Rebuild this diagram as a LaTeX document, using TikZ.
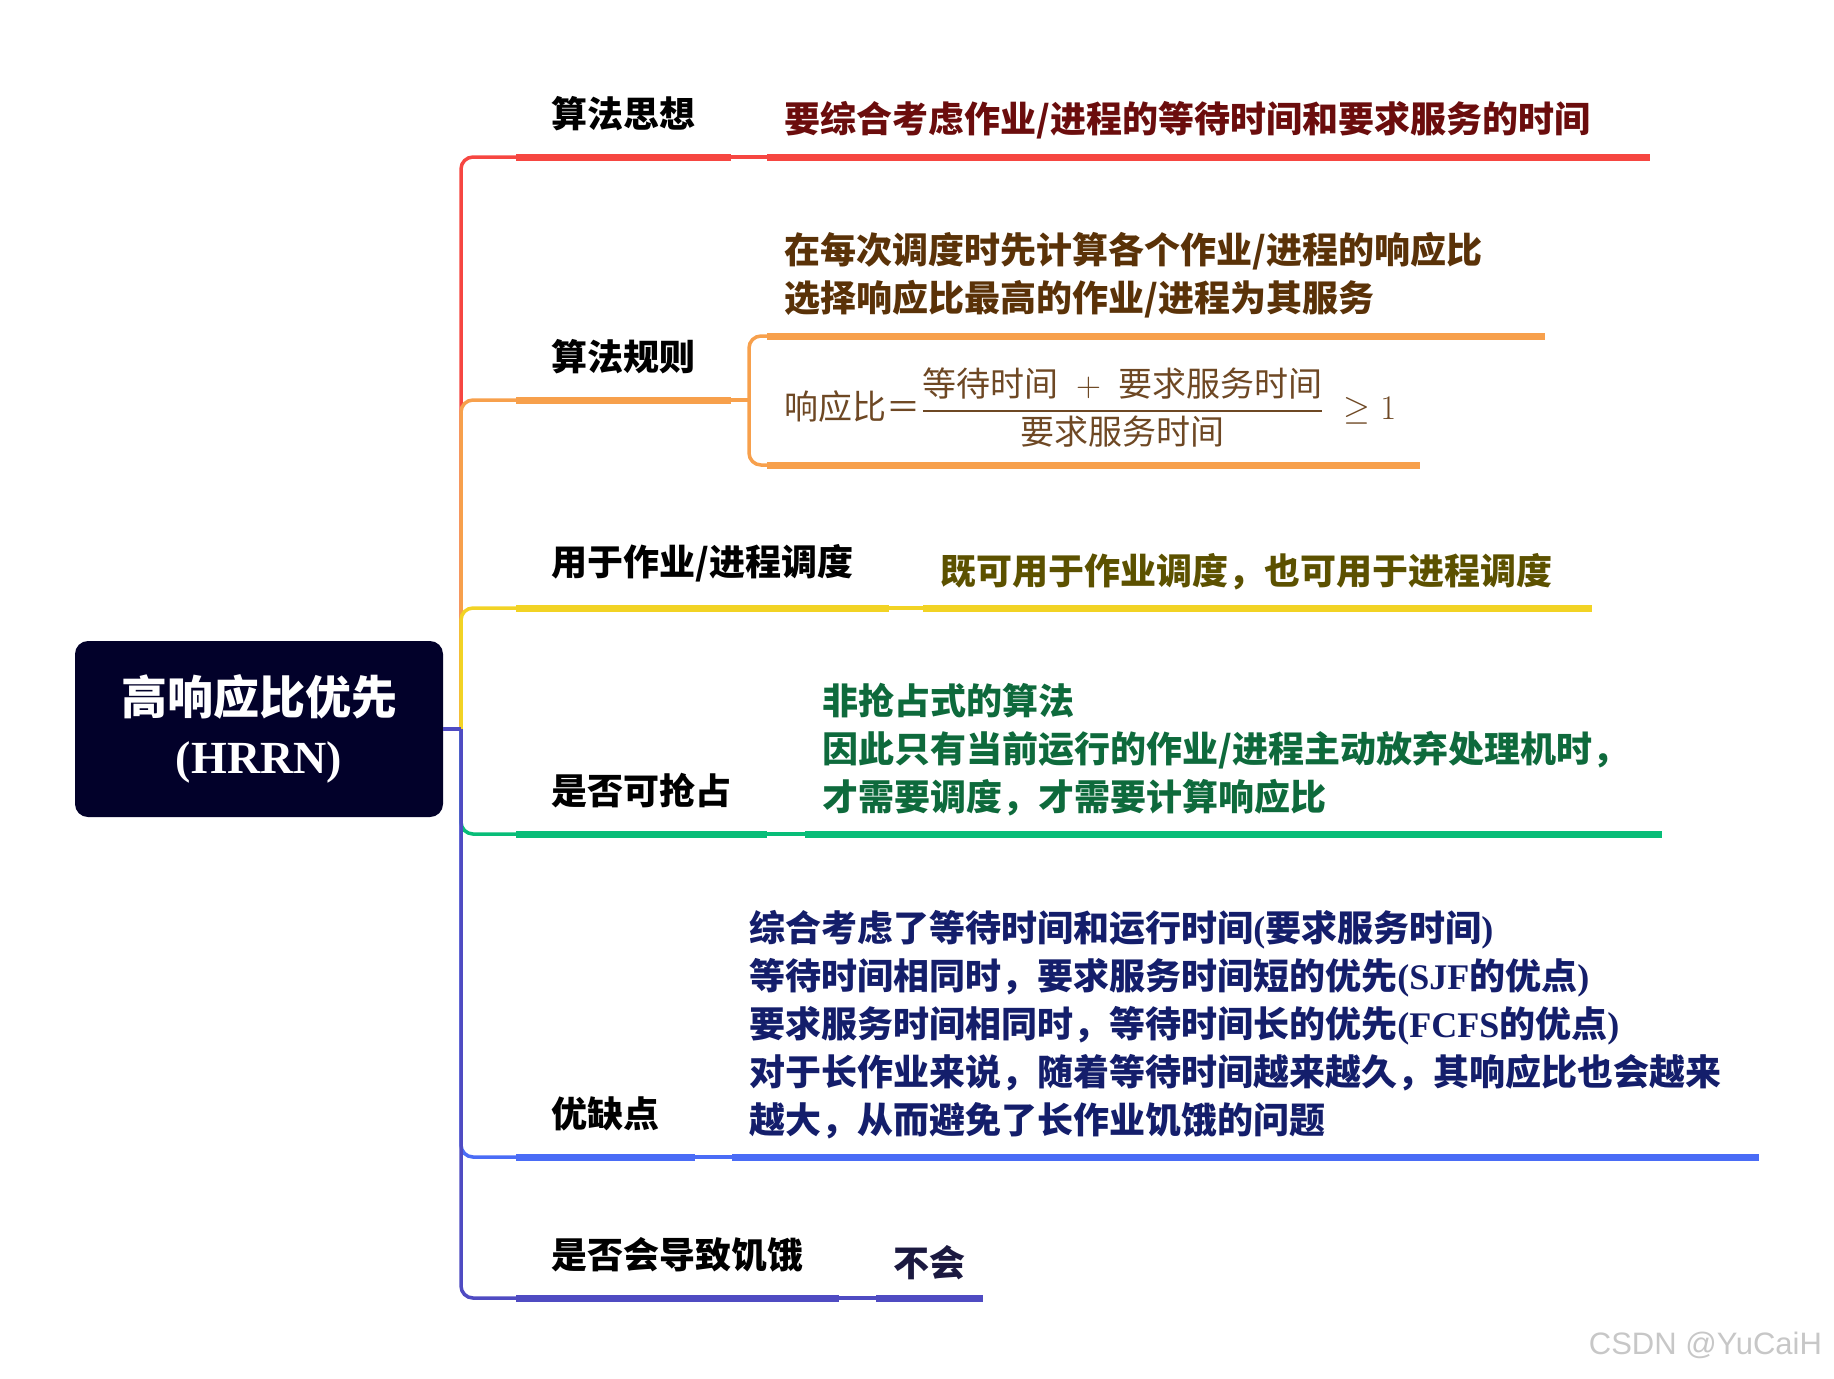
\documentclass[tikz,border=0pt]{standalone}
\usepackage{amsmath}
\usepackage{fontspec}
\newfontfamily\cjk{Noto Sans CJK SC}
\newfontfamily\latfont{Liberation Serif}
\newfontfamily\wmfont{Liberation Sans}
\usetikzlibrary{positioning}

\definecolor{rootNavy}{HTML}{02012A}
\definecolor{cRed}{HTML}{F64641}
\definecolor{cOrange}{HTML}{F7A04C}
\definecolor{cYellow}{HTML}{F2D324}
\definecolor{cGreen}{HTML}{08BD78}
\definecolor{cBlue}{HTML}{4A6CF6}
\definecolor{cPurple}{HTML}{4F4BC2}
\definecolor{tRed}{HTML}{6B0D0D}
\definecolor{tBrown}{HTML}{5A3208}
\definecolor{tFormula}{HTML}{6E4824}
\definecolor{tOlive}{HTML}{5C5100}
\definecolor{tGreen}{HTML}{0E6A3C}
\definecolor{tNavy}{HTML}{141E6B}
\definecolor{tDark}{HTML}{1B1940}

\newcommand\latn[1]{{\latfont\bfseries #1}}

\begin{document}
\begin{tikzpicture}[
    x=0.5pt, y=-0.5pt,
    rootbox/.style={
        fill=rootNavy,
        rounded corners=6.5pt,
        minimum width=184pt,
        minimum height=88pt,
        inner sep=0pt,
        align=center,
        text=white,
        font=\fontsize{23}{29.5}\selectfont
    },
    lab/.style={
        anchor=south west,
        inner xsep=17.5pt,
        inner ysep=12.75pt,
        font=\cjk\bfseries\fontsize{18}{24}\selectfont
    },
    leaf/.style={
        anchor=south west,
        inner xsep=8.5pt,
        inner ysep=8.75pt,
        align=left,
        font=\cjk\bfseries\fontsize{18}{24}\selectfont
    },
    twig/.style={
        draw=#1,
        line width=1.75pt,
        rounded corners=6pt
    },
    uline/.style={
        draw=#1,
        line width=3.5pt
    }
]
\useasboundingbox (0,0) rectangle (1834,1378);

\node[rootbox] (root) at (259,729)
    {{\cjk\bfseries 高响应比优先}\\
     {\latfont\bfseries\fontsize{23}{29.5}\selectfont (HRRN)}};
\coordinate (spine) at (461,729);

\node[lab] (think) at (516,157) {算法思想};
\node[leaf, text=tRed, text width=424pt] (thinkTxt) at (767,157)
    {要综合考虑作业/进程的等待时间和要求服务的时间};

\node[lab] (rule) at (516,400) {算法规则};
\node[leaf, text=tBrown, text width=371.5pt] (ruleTxt) at (767,336)
    {在每次调度时先计算各个作业/进程的响应比\\选择响应比最高的作业/进程为其服务};
\node[leaf, text=tFormula, font=\cjk\fontsize{17}{20}\selectfont, text width=309pt] (ruleEq) at (767,465)
    {$\mbox{响应比＝}\dfrac{\mbox{等待时间}\;+\;\mbox{要求服务时间}}{\mbox{要求服务时间}}\;\geq 1$};
\coordinate (ruleFork) at (749,400);

\node[lab] (use) at (516,608) {用于作业/进程调度};
\node[leaf, text=tOlive, text width=317pt] (useTxt) at (923,608)
    {既可用于作业调度，也可用于进程调度};

\node[lab] (preempt) at (516,834) {是否可抢占};
\node[leaf, text=tGreen, text width=411pt] (preemptTxt) at (805,834)
    {非抢占式的算法\\因此只有当前运行的作业/进程主动放弃处理机时，\\才需要调度，才需要计算响应比};

\node[lab] (pros) at (516,1157) {优缺点};
\node[leaf, text=tNavy, text width=496pt] (prosTxt) at (732,1157)
    {综合考虑了等待时间和运行时间\latn{(}要求服务时间\latn{)}\\
     等待时间相同时，要求服务时间短的优先\latn{(SJF}的优点\latn{)}\\
     要求服务时间相同时，等待时间长的优先\latn{(FCFS}的优点\latn{)}\\
     对于长作业来说，随着等待时间越来越久，其响应比也会越来\\
     越大，从而避免了长作业饥饿的问题};

\node[lab] (starve) at (516,1298) {是否会导致饥饿};
\node[leaf, text=tDark, text width=36pt] (starveTxt) at (876,1298) {不会};

\draw[twig=cRed] (spine) |- (think.south west);
\draw[twig=cOrange] (spine) |- (rule.south west);
\draw[twig=cYellow] (spine) |- (use.south west);
\draw[twig=cGreen] (spine) |- (preempt.south west);
\draw[twig=cBlue] (spine) |- (pros.south west);
\draw[twig=cPurple] (spine) |- (starve.south west);
\draw[twig=cPurple] (root.east) -- (spine);

\draw[uline=cRed] (think.south west) -- (think.south east);
\draw[twig=cRed] (think.south east) -- (thinkTxt.south west);
\draw[uline=cRed] (thinkTxt.south west) -- (thinkTxt.south east);

\draw[uline=cOrange] (rule.south west) -- (rule.south east);
\draw[twig=cOrange] (rule.south east) -- (ruleFork);
\draw[twig=cOrange] (ruleTxt.south west) -| (ruleFork) |- (ruleEq.south west);
\draw[uline=cOrange] (ruleTxt.south west) -- (ruleTxt.south east);
\draw[uline=cOrange] (ruleEq.south west) -- (ruleEq.south east);

\draw[uline=cYellow] (use.south west) -- (use.south east);
\draw[twig=cYellow] (use.south east) -- (useTxt.south west);
\draw[uline=cYellow] (useTxt.south west) -- (useTxt.south east);

\draw[uline=cGreen] (preempt.south west) -- (preempt.south east);
\draw[twig=cGreen] (preempt.south east) -- (preemptTxt.south west);
\draw[uline=cGreen] (preemptTxt.south west) -- (preemptTxt.south east);

\draw[uline=cBlue] (pros.south west) -- (pros.south east);
\draw[twig=cBlue] (pros.south east) -- (prosTxt.south west);
\draw[uline=cBlue] (prosTxt.south west) -- (prosTxt.south east);

\draw[uline=cPurple] (starve.south west) -- (starve.south east);
\draw[twig=cPurple] (starve.south east) -- (starveTxt.south west);
\draw[uline=cPurple] (starveTxt.south west) -- (starveTxt.south east);

\node[font=\wmfont\fontsize{15.5}{18}\selectfont, text=black!22, anchor=east] (mark) at (1829,1345) {CSDN @YuCaiH};
\end{tikzpicture}
\end{document}
